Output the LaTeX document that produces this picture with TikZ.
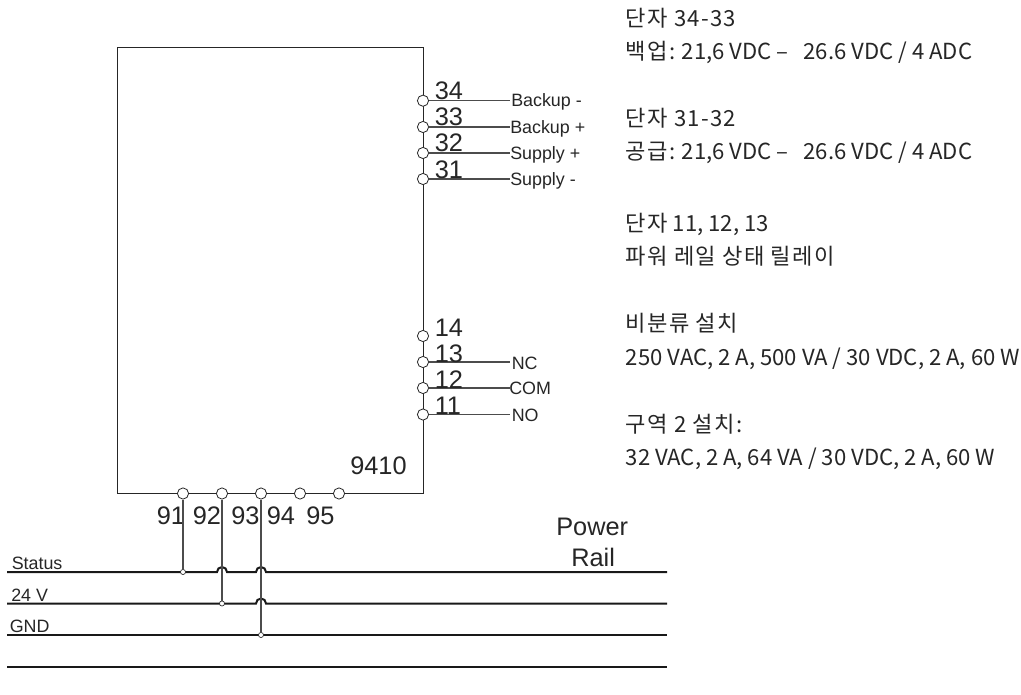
\documentclass[tikz,border=0pt]{standalone}
\usepackage{fontspec}
\setmainfont{Liberation Sans}
\newfontfamily\kr{Noto Sans CJK KR}
\newfontfamily\krs[LetterSpace=6]{Noto Sans CJK KR}
\tikzset{
  x=0.75pt,y=-0.75pt,
  thin line/.style={draw=black!85,line width=0.75pt},
  wire/.style={draw=black!70,line width=0.8pt},
  rail/.style={draw=black!90,line width=1.5pt},
  term/.style={circle,draw=black!85,fill=white,line width=0.6pt,minimum size=8.4pt,inner sep=0pt},
  dot/.style={circle,draw=black!85,fill=white,line width=0.5pt,minimum size=3.8pt,inner sep=0pt},
  num/.style={font=\fontsize{19}{19}\selectfont,text=black!85,inner sep=0pt,anchor=base west},
  lab/.style={font=\fontsize{13.4}{14}\selectfont,text=black!85,inner sep=0pt,anchor=base west},
  note/.style={font=\kr\fontsize{16.6}{20}\selectfont,text=black!85,inner sep=0pt,anchor=base west},
}
\begin{document}
\begin{tikzpicture}
\useasboundingbox (0,0) rectangle (1021,695);
\fill[white] (0,0) rectangle (1021,695);
% module outline
\coordinate (tl) at (117.5,48);
\coordinate (tr) at (423,48);
\coordinate (br) at (423,493);
\coordinate (bl) at (117.5,493);
\draw[thin line] (tl) -- (tr) -- (br) -- (bl) -- cycle;
% rails
\coordinate (r1a) at (7,572); \coordinate (r1b) at (667,572);
\coordinate (r2a) at (7,603.5); \coordinate (r2b) at (667,603.5);
\coordinate (r3a) at (7,635); \coordinate (r3b) at (667,635);
\coordinate (r4a) at (7,666.5); \coordinate (r4b) at (667,666.5);
\draw[rail] (r1a) -- (217,572) arc[start angle=180,end angle=360,radius=5] -- (256,572) arc[start angle=180,end angle=360,radius=5] -- (r1b);
\draw[rail] (r2a) -- (256,603.5) arc[start angle=180,end angle=360,radius=5] -- (r2b);
\draw[rail] (r3a) -- (r3b);
\draw[rail] (r4a) -- (r4b);
% terminals right
\foreach \n/\y in {34/100.7,33/127,32/153,31/179,14/336,13/362,12/388,11/414.5}{
  \node[term] (t\n) at (423,\y) {};
}
\foreach \n/\y in {34/100.7,33/127,32/153,31/179,13/362,12/388,11/414.5}{
  \coordinate (e\n) at (510,\y);
  \draw[wire] (t\n) -- (e\n);
}
\foreach \n/\x/\y in {34/434.5/100,33/434.5/125.5,32/434.5/152,31/434.5/179,14/434.5/336,13/434.5/362,12/434.5/388,11/434.5/414}{
  \node[num] (n\n) at (\x,\y) {\n};
}
\node[lab] (l34) at (511,107) {Backup -};
\node[lab] (l33) at (510,133.5) {Backup +};
\node[lab] (l32) at (510,159.5) {Supply +};
\node[lab] (l31) at (510,185.5) {Supply -};
\node[lab] (l13) at (511.5,369) {NC};
\node[lab] (l12) at (509,394) {COM};
\node[lab] (l11) at (511.5,421) {NO};
\node[num] (model) at (350,474) {9410};
% terminals bottom
\foreach \n/\x in {91/183,92/222,93/261,94/300,95/339}{
  \node[term] (b\n) at (\x,493.5) {};
}
\foreach \n/\x in {91/156.5,92/192.5,93/231,94/266.5,95/306}{
  \node[num] (n\n) at (\x,524) {\n};
}
% junctions
\node[dot] (d1) at (183,572) {};
\node[dot] (d2) at (222,603.5) {};
\node[dot] (d3) at (261,635) {};
\draw[wire] (b91) -- (d1);
\draw[wire] (b92) -- (d2);
\draw[wire] (b93) -- (d3);
% rail labels
\node[lab] (s) at (11.5,569) {Status};
\node[lab] (v) at (11,601) {24 V};
\node[lab] (g) at (9.5,632) {GND};
\node[num] (pr1) at (556,535) {Power};
\node[num] (pr2) at (571,566) {Rail};
% notes
\node[note] (a1) at (625.5,27) {\krs 단자 34-33};
\node[note] (a2) at (625.5,60) {{\krs 백업:} 21,6 VDC –\ \ \ 26.6 VDC / 4 ADC};
\node[note] (b1) at (625.5,127) {\krs 단자 31-32};
\node[note] (b2) at (625.5,160) {{\krs 공급:} 21,6 VDC –\ \ \ 26.6 VDC / 4 ADC};
\node[note] (c1) at (625.5,232) {{\krs 단자} 11, 12, 13};
\node[note] (c2) at (625.5,265) {\krs 파워 레일 상태 릴레이};
\node[note] (e1) at (625.5,332) {\krs 비분류 설치};
\node[note] (e2) at (625.5,365) {250 VAC, 2 A, 500 VA / 30 VDC, 2 A, 60 W};
\node[note] (f1) at (625.5,432) {\krs 구역 2 설치:};
\node[note] (f2) at (625.5,465) {32 VAC, 2 A, 64 VA / 30 VDC, 2 A, 60 W};
\end{tikzpicture}
\end{document}
